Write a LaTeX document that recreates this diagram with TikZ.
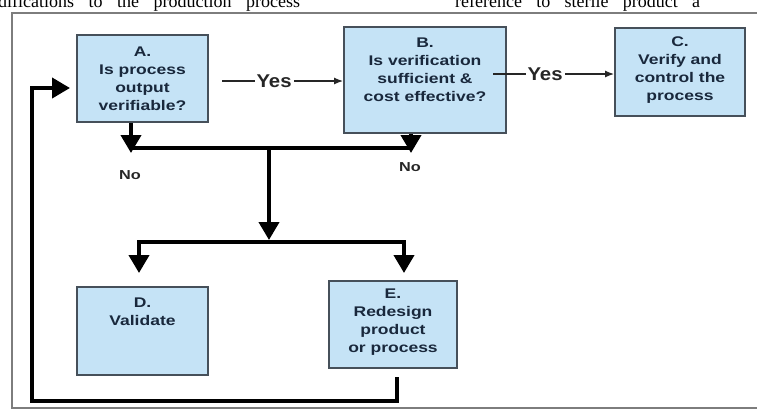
\documentclass[tikz,border=0pt]{standalone}
\usepackage{fontspec}
\setmainfont{Liberation Serif}
\newfontfamily\boxfont[FakeStretch=1.25]{Liberation Sans}
\newfontfamily\yesfont[FakeStretch=1.1]{Liberation Sans}
\usetikzlibrary{arrows.meta}
\definecolor{boxfill}{RGB}{197,227,246}
\definecolor{boxline}{RGB}{70,80,90}
\definecolor{txtcol}{RGB}{25,40,60}
\definecolor{framecol}{RGB}{125,125,125}
\begin{document}
\begin{tikzpicture}[x=1pt,y=-1pt,
 stepbox/.style={draw=boxline, line width=1.8pt, fill=boxfill, inner sep=0pt},
 boxtxt/.style={align=center, font=\boxfont\bfseries\fontsize{14}{18}\selectfont, text=txtcol, inner sep=0pt},
 yeslbl/.style={fill=white, font=\yesfont\bfseries\fontsize{18.5}{20}\selectfont, text=black!85, inner sep=2pt},
 nolbl/.style={font=\boxfont\bfseries\fontsize{13}{15}\selectfont, text=black!85, inner sep=0pt},
 toptxt/.style={anchor=base west, inner sep=0pt, font=\fontsize{18}{20}\selectfont},
 bigarrow/.style={line width=4pt, -{Triangle[width=20pt,length=18pt]}},
 bothbig/.style={line width=4pt, {Triangle[width=20pt,length=18pt]}-{Triangle[width=20pt,length=18pt]}},
 thinarrow/.style={line width=1.4pt, black!85, -{Latex[length=9pt,width=7pt]}},
 thickline/.style={line width=4pt}]
\clip (0,0) rectangle (757,410);
\fill[white] (0,0) rectangle (757,410);
% cut-off page text
\node[toptxt] (t1) at (-2,7.5) {\makebox[302pt][s]{difications to the production process}};
\node[toptxt] (t2) at (455,7.5) {\makebox[245pt][s]{reference to sterile product a}};
% frame
\draw[framecol, line width=1.3pt] (757,13) -- (12,13) -- (12,408) -- (757,408);
% boxes
\node[stepbox, minimum width=131pt, minimum height=87pt] (A) at (142.5,78.5) {};
\node[stepbox, minimum width=162pt, minimum height=106pt] (B) at (425,80) {};
\node[stepbox, minimum width=130pt, minimum height=88pt] (C) at (680,72) {};
\node[stepbox, minimum width=131pt, minimum height=88pt] (D) at (142.5,331) {};
\node[stepbox, minimum width=128pt, minimum height=87pt] (E) at (393,324.5) {};
\node[boxtxt] (At) at (A.center) {A.\\Is process\\output\\verifiable?};
\node[boxtxt] (Bt) at (425,70) {B.\\Is verification\\sufficient \&\\cost effective?};
\node[boxtxt] (Ct) at (680,70) {C.\\Verify and\\control the\\process};
\node[boxtxt] (Dt) at (142.5,312) {D.\\Validate};
\node[boxtxt] (Et) at (393,322.5) {E.\\Redesign\\product\\or process};
% coordinates
\coordinate (ya) at (222,81);
\coordinate (yb) at (493,74);
\coordinate (na) at (131,153);
\coordinate (nb) at (411,153);
\coordinate (ha) at (131,148);
\coordinate (hb) at (411,148);
\coordinate (hm) at (269,148);
\coordinate (vm) at (269,240);
\coordinate (la) at (139,242);
\coordinate (lb) at (404,242);
\coordinate (da) at (139,273);
\coordinate (eb) at (404,273);
\coordinate (e1) at (397,377);
\coordinate (fb) at (397,401);
\coordinate (fl) at (32,401);
\coordinate (fu) at (32,88);
\coordinate (fa) at (70,88);
% Yes connectors
\draw[thinarrow] (ya) -- node[yeslbl, pos=0.43] (y1) {Yes} (ya -| B.west);
\draw[thinarrow] (yb) -- node[yeslbl, pos=0.43] (y2) {Yes} (yb -| C.west);
% No connectors
\draw[thickline] (ha) -- (hb);
\draw[bigarrow] (A.south -| na) -- (na);
\draw[bigarrow] (B.south -| nb) -- (nb);
\node[nolbl] (n1) at (130,175) {No};
\node[nolbl] (n2) at (410,167) {No};
\draw[bigarrow] (hm) -- (vm);
\draw[bothbig] (da) -- (la) -- (lb) -- (eb);
% feedback loop
\draw[bigarrow] (e1) -- (fb) -- (fl) -- (fu) -- (fa);
\end{tikzpicture}
\end{document}
